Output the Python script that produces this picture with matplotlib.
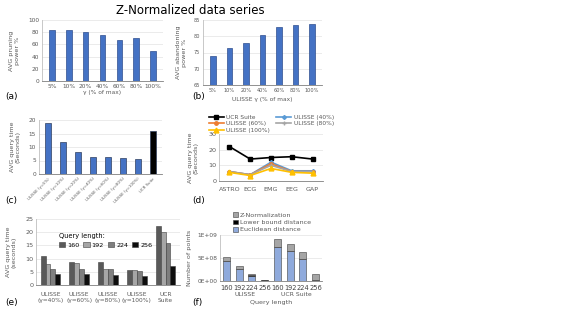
import matplotlib.pyplot as plt
import numpy as np

W, H = 563, 317

gammas = ["5%", "10%", "20%", "40%", "60%", "80%", "100%"]
pruning = [84, 83, 80, 76, 67, 70, 50]
abandoning = [74, 76.5, 78, 80.5, 83, 83.5, 83.8]

c_labels = ["ULISSE (γ=5%)", "ULISSE (γ=10%)", "ULISSE (γ=20%)", "ULISSE (γ=40%)",
            "ULISSE (γ=60%)", "ULISSE (γ=80%)", "ULISSE (γ=100%)", "UCR Suite"]
c_times = [19, 12, 8.2, 6.2, 6.3, 5.8, 5.6, 16]

datasets = ["ASTRO", "ECG", "EMG", "EEG", "GAP"]
d_ucr = [22, 14, 15, 15.5, 14]
d_u40 = [6, 4, 12, 6.5, 6.5]
d_u60 = [6, 4, 11, 6, 6]
d_u80 = [6, 4, 10, 6, 6]
d_u100 = [5.5, 3.5, 8, 5.5, 5]

e_groups = ["ULISSE\n(γ=40%)", "ULISSE\n(γ=60%)", "ULISSE\n(γ=80%)", "ULISSE\n(γ=100%)", "UCR\nSuite"]
qlens = ["160", "192", "224", "256"]
e_times = {
    "160": [10.8, 8.7, 8.7, 5.8, 22.5],
    "192": [7.8, 8.5, 5.9, 5.5, 20.0],
    "224": [5.9, 6.2, 6.2, 5.2, 16.0],
    "256": [4.0, 4.0, 3.9, 3.3, 7.2],
}

f_labels = ["160", "192", "224", "256", "160", "192", "224", "256"]
f_euclid = [4.3e8, 2.6e8, 1.1e8, 0.0, 7.4e8, 6.5e8, 4.8e8, 0.1e8]
f_lb = [0.1e8, 0.1e8, 0.1e8, 0.25e8, 0.05e8, 0.05e8, 0.05e8, 0.05e8]
f_znorm = [0.9e8, 0.5e8, 0.3e8, 0.05e8, 1.6e8, 1.6e8, 1.35e8, 1.35e8]

plt.rcParams['font.family'] = ['DejaVu Sans']
TICK = 4.2
LAB = 4.6
GRAY_TXT = '#595959'
BLUE = '#4472C4'

fig = plt.figure(figsize=(W / 100, H / 100), dpi=100)


def ax_px(l, t, r, b):
    ax = fig.add_axes([l / W, 1 - b / H, (r - l) / W, (b - t) / H])
    for s in ['top', 'right']:
        ax.spines[s].set_visible(False)
    ax.spines['left'].set_color('#BFBFBF')
    ax.spines['bottom'].set_color('#7F7F7F')
    ax.spines['left'].set_linewidth(0.6)
    ax.spines['bottom'].set_linewidth(0.6)
    ax.yaxis.grid(True, color='#E3E3E3', linewidth=0.5)
    ax.set_axisbelow(True)
    ax.tick_params(length=0, labelsize=TICK, colors=GRAY_TXT, pad=2)
    return ax


fig.text(190 / W, 1 - 10 / H, "Z-Normalized data series", ha='center', va='center', fontsize=8.5)

# (a)
ax = ax_px(42, 20, 163, 81)
x = np.arange(len(gammas))
ax.bar(x, pruning, width=0.32, color=BLUE, edgecolor='#2F4F8F', linewidth=0.5)
ax.set_ylim(0, 100)
ax.set_yticks(range(0, 101, 20))
ax.set_xticks(x, gammas)
ax.set_xlim(-0.6, len(gammas) - 0.4)
ax.set_xlabel("γ (% of max)", fontsize=TICK, color=GRAY_TXT, labelpad=1)
ax.set_ylabel("AVG pruning\npower %", fontsize=LAB, color=GRAY_TXT, labelpad=6)
fig.text(5 / W, 1 - 97 / H, "(a)", fontsize=6.5, va='center')

# (b)
ax = ax_px(203, 20, 322, 85)
ax.bar(x, abandoning, width=0.32, color=BLUE, edgecolor='#2F4F8F', linewidth=0.5)
ax.set_ylim(65, 85)
ax.set_yticks(range(65, 86, 5))
ax.set_xticks(x, gammas)
ax.set_xlim(-0.6, len(gammas) - 0.4)
ax.tick_params(labelsize=3.6)
ax.set_xlabel("ULISSE γ (% of max)", fontsize=TICK, color=GRAY_TXT, labelpad=3)
ax.set_ylabel("AVG abandoning\npower %", fontsize=LAB, color=GRAY_TXT, labelpad=5)
fig.text(192 / W, 1 - 97 / H, "(b)", fontsize=6.5, va='center')

# (c)
ax = ax_px(39, 120, 162, 174)
x = np.arange(len(c_labels))
cols = [BLUE] * 7 + ['black']
ax.bar(x, c_times, width=0.35, color=cols, edgecolor='#2F3F5F', linewidth=0.5)
ax.set_ylim(0, 20)
ax.set_yticks(range(0, 21, 5))
ax.set_xticks(x, c_labels, rotation=45, ha='right', rotation_mode='anchor')
ax.tick_params(axis='x', labelsize=2.8)
ax.set_xlim(-0.6, len(c_labels) - 0.4)
ax.set_ylabel("AVG query time\n(Seconds)", fontsize=LAB, color=GRAY_TXT, labelpad=6)
fig.text(5 / W, 1 - 200 / H, "(c)", fontsize=6.5, va='center')

# (d)
ax = ax_px(219, 134, 323, 181)
x = np.arange(len(datasets))
l_ucr, = ax.plot(x, d_ucr, color='black', marker='s', ms=3.5, lw=1.2, label="UCR Suite")
l40, = ax.plot(x, d_u40, color='#5B9BD5', marker='D', ms=2, lw=1.2, label="ULISSE (40%)")
l60, = ax.plot(x, d_u60, color='#ED7D31', marker='o', ms=2.5, lw=1.2, label="ULISSE (60%)")
l80, = ax.plot(x, d_u80, color='#A5A5A5', marker='+', ms=3, lw=1.2, label="ULISSE (80%)")
l100, = ax.plot(x, d_u100, color='#FFC000', marker='^', ms=3.5, lw=1.2, label="ULISSE (100%)")
ax.set_ylim(0, 30)
ax.set_yticks(range(0, 31, 10))
ax.set_xticks(x, datasets)
ax.set_xlim(-0.5, len(datasets) - 0.5)
ax.tick_params(axis='x', labelsize=4.6, pad=4)
ax.tick_params(axis='y', labelsize=4.6)
ax.set_ylabel("AVG query time\n(Seconds)", fontsize=LAB, color=GRAY_TXT, labelpad=7)
hd = [l_ucr, l60, l100, l40, l80]
ax.legend(hd, [h.get_label() for h in hd], ncol=2, fontsize=4.2, frameon=False,
          loc='lower left', bbox_to_anchor=(-0.12, 0.98), handlelength=2.6,
          columnspacing=1.0, labelspacing=0.2, borderaxespad=0, handletextpad=0.4,
          labelcolor=GRAY_TXT)
fig.text(192 / W, 1 - 200 / H, "(d)", fontsize=6.5, va='center')

# (e)
ax = ax_px(36, 219, 180, 285)
x = np.arange(len(e_groups))
ecols = ['#595959', '#A6A6A6', '#7F7F7F', '#0D0D0D']
bw = 0.17
for i, q in enumerate(qlens):
    ax.bar(x + (i - 1.5) * bw, e_times[q], width=bw, color=ecols[i],
           edgecolor='#404040', linewidth=0.4, label=q)
ax.set_ylim(0, 25)
ax.set_yticks(range(0, 26, 5))
ax.set_xticks(x, e_groups)
ax.set_xlim(-0.5, len(e_groups) - 0.5)
ax.tick_params(axis='x', labelsize=4.2, pad=5)
ax.tick_params(axis='y', labelsize=4.6)
ax.set_ylabel("AVG query time\n(seconds)", fontsize=LAB, color=GRAY_TXT, labelpad=6)
leg = ax.legend(ncol=4, fontsize=4.6, frameon=False, loc='upper left',
                bbox_to_anchor=(0.12, 0.88), title="Query length:",
                handlelength=1.0, handleheight=0.8, columnspacing=0.6, handletextpad=0.3)
leg.get_title().set_fontsize(4.8)
leg._legend_box.align = "left"
fig.text(5 / W, 1 - 303 / H, "(e)", fontsize=6.5, va='center')

# (f)
ax = ax_px(220, 235, 322, 281)
x = np.arange(len(f_labels))
bottom2 = np.array(f_euclid) + np.array(f_lb)
ax.bar(x, f_euclid, width=0.55, color='#8FAADC', edgecolor='#3F3F3F', linewidth=0.4,
       label="Euclidean distance")
ax.bar(x, f_lb, bottom=f_euclid, width=0.55, color='black', edgecolor='#3F3F3F',
       linewidth=0.4, label="Lower bound distance")
ax.bar(x, f_znorm, bottom=bottom2, width=0.55, color='#A5A5A5', edgecolor='#3F3F3F',
       linewidth=0.4, label="Z-Normalization")
ax.set_ylim(0, 1e9)
ax.set_yticks([0, 5e8, 1e9], ["0E+00", "5E+08", "1E+09"])
ax.set_xticks(x, f_labels)
ax.set_xlim(-0.5, len(f_labels) - 0.5)
ax.tick_params(axis='x', labelsize=4.8, colors='#404040', pad=3)
ax.tick_params(axis='y', labelsize=4.2)
ax.set_ylabel("Number of points", fontsize=LAB, color=GRAY_TXT, labelpad=4)
ax.text(1.5, -0.3, "ULISSE", transform=ax.get_xaxis_transform(), ha='center',
        va='center', fontsize=4.4, color=GRAY_TXT)
ax.text(5.5, -0.3, "UCR Suite", transform=ax.get_xaxis_transform(), ha='center',
        va='center', fontsize=4.4, color=GRAY_TXT)
ax.text(3.5, -0.46, "Query length", transform=ax.get_xaxis_transform(), ha='center',
        va='center', fontsize=4.6, color=GRAY_TXT)
h, l = ax.get_legend_handles_labels()
ax.legend(h[::-1], l[::-1], fontsize=4.6, frameon=False, loc='lower left',
          bbox_to_anchor=(0.1, 1.0), handlelength=0.8, handleheight=0.8,
          labelspacing=0.25, borderaxespad=0, handletextpad=0.3, labelcolor=GRAY_TXT)
fig.text(192 / W, 1 - 303 / H, "(f)", fontsize=6.5, va='center')

fig.savefig("out.png", dpi=100)
